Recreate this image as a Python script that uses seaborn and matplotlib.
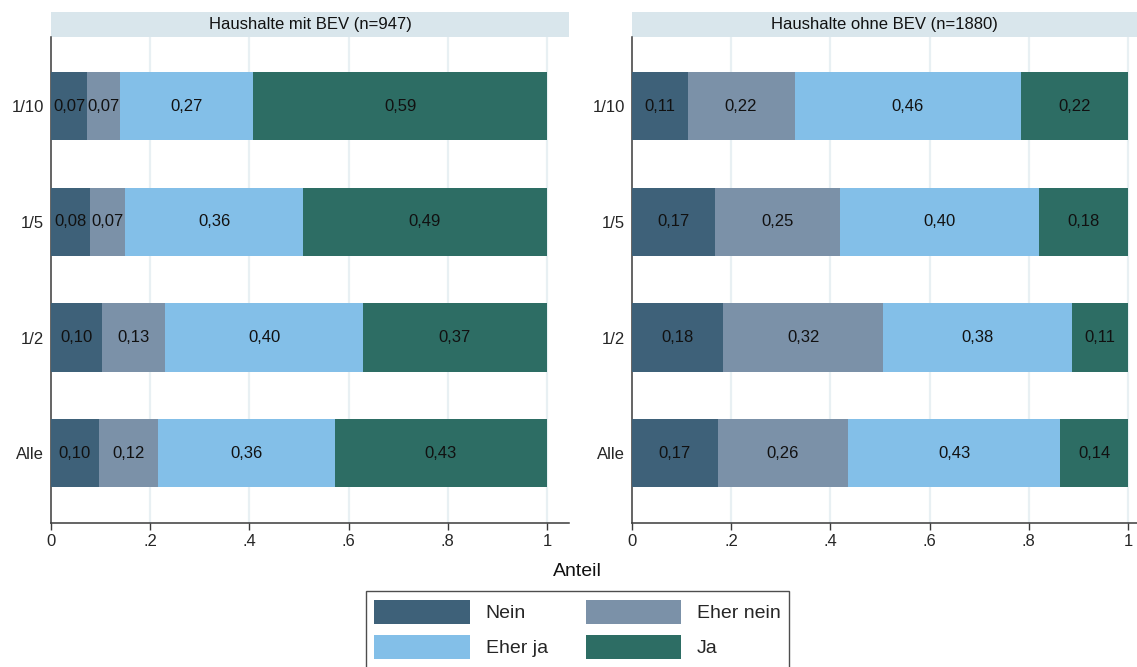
"""
Stacked horizontal bar chart: Zustimmung nach Anteil, Haushalte mit/ohne BEV.
"""

import numpy as np
import pandas as pd
import matplotlib
matplotlib.use("Agg")
import matplotlib.pyplot as plt
from matplotlib.patches import Rectangle, Patch
import seaborn as sns

# --- data -------------------------------------------------------------------
categories = ["1/10", "1/5", "1/2", "Alle"]
answers = ["Nein", "Eher nein", "Eher ja", "Ja"]
panels = ["Haushalte mit BEV (n=947)", "Haushalte ohne BEV (n=1880)"]

# shares per category (rows) and answer (columns)
mit_bev = [
    [0.073, 0.067, 0.268, 0.592],
    [0.078, 0.072, 0.358, 0.492],
    [0.103, 0.127, 0.399, 0.371],
    [0.096, 0.119, 0.357, 0.428],
]
ohne_bev = [
    [0.112, 0.216, 0.456, 0.216],
    [0.168, 0.252, 0.401, 0.179],
    [0.183, 0.324, 0.380, 0.113],
    [0.173, 0.263, 0.427, 0.137],
]

x_ticks = [0, 0.2, 0.4, 0.6, 0.8, 1.0]
x_tick_labels = ["0", ".2", ".4", ".6", ".8", "1"]

colors = {
    "Nein": "#3e6179",
    "Eher nein": "#7b91a8",
    "Eher ja": "#83bfe8",
    "Ja": "#2d6d64",
}
HEADER_BG = "#d9e6ec"
GRID_COLOR = "#e8f0f3"
AXIS_COLOR = "#3a3a3a"

# --- long table ---------------------------------------------------------------
rows = []
for panel, table in zip(panels, [mit_bev, ohne_bev]):
    for cat, shares in zip(categories, table):
        cum = np.cumsum(shares)
        for ans, val, c in zip(answers, shares, cum):
            rows.append({"panel": panel, "cat": cat, "answer": ans,
                         "value": val, "cum": c})
df = pd.DataFrame(rows)

# --- figure -------------------------------------------------------------------
sns.set_theme(style="white")
plt.rcParams["font.family"] = ["Liberation Sans", "DejaVu Sans"]

W, H = 1137, 667
fig = plt.figure(figsize=(W / 100, H / 100), dpi=100)

plot_bottom = 1 - 522.5 / H
plot_height = 485.5 / H
axes_specs = [
    (51 / W, 518 / W, 518 / 496),
    (632 / W, 505 / W, 505 / 496),
]

for panel, (x0, w, xmax) in zip(panels, axes_specs):
    ax = fig.add_axes([x0, plot_bottom, w, plot_height])
    sub = df[df["panel"] == panel]

    # stacked bars: draw cumulative totals from the right-most answer inwards
    for ans in reversed(answers):
        part = sub[sub["answer"] == ans]
        sns.barplot(data=part, x="cum", y="cat", order=categories,
                    orient="h", color=colors[ans], saturation=1,
                    width=0.59, linewidth=0, errorbar=None, ax=ax, zorder=3)

    # value labels in the middle of each segment
    for _, r in sub.iterrows():
        yi = categories.index(r["cat"])
        ax.text(r["cum"] - r["value"] / 2, yi,
                f"{r['value']:.2f}".replace(".", ","),
                ha="center", va="center", fontsize=12, color="#111111",
                zorder=4)

    ax.set_xlim(0, xmax)
    ax.set_ylim(3.6, -0.6)
    ax.set_xticks(x_ticks)
    ax.set_xticklabels(x_tick_labels)
    ax.set_xlabel("")
    ax.set_ylabel("")
    ax.tick_params(axis="x", length=5, width=1, color=AXIS_COLOR,
                   labelsize=12, pad=3.5, bottom=True)
    ax.tick_params(axis="y", length=0, labelsize=12, pad=5)

    ax.grid(False)
    for xv in x_ticks[1:]:
        ax.axvline(xv, color=GRID_COLOR, linewidth=1.6, zorder=1)

    for side in ["top", "right"]:
        ax.spines[side].set_visible(False)
    for side in ["left", "bottom"]:
        ax.spines[side].set_color(AXIS_COLOR)
        ax.spines[side].set_linewidth(1.1)

    # panel header strip
    hdr_h = 25 / 485.5
    ax.add_patch(Rectangle((0, 1), 1, hdr_h, transform=ax.transAxes,
                           facecolor=HEADER_BG, edgecolor="none",
                           clip_on=False, zorder=0))
    ax.text(0.5, 1 + hdr_h / 2, panel, transform=ax.transAxes,
            ha="center", va="center", fontsize=12, color="#111111")

fig.text(0.508, 1 - 571 / H, "Anteil", ha="center", va="center",
         fontsize=14, color="#111111")

labels = ["Nein", "Eher ja", "Eher nein", "Ja"]
handles = [Patch(facecolor=colors[a], edgecolor="none") for a in labels]
leg = fig.legend(handles, labels, ncol=2, loc="upper center",
                 bbox_to_anchor=(0.508, 1 - 591 / H),
                 bbox_transform=fig.transFigure,
                 fontsize=14, frameon=True, fancybox=False,
                 handlelength=4.9, handleheight=1.55, handletextpad=0.82,
                 columnspacing=1.95, labelspacing=0.55, borderpad=0.45,
                 borderaxespad=0)
leg.get_frame().set_edgecolor("#222222")
leg.get_frame().set_linewidth(1.0)

plt.savefig("out.png", dpi=100)
plt.close()
